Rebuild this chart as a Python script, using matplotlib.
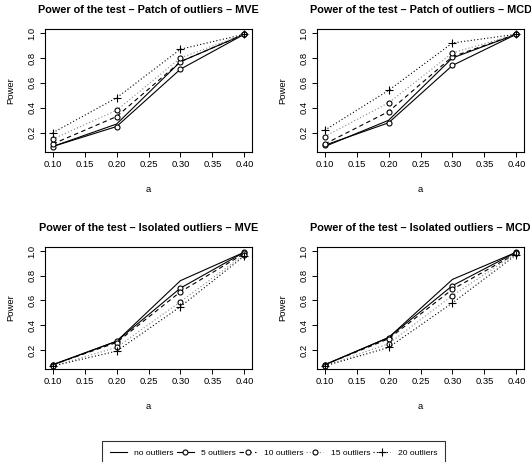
import matplotlib
matplotlib.use("Agg")
import matplotlib.pyplot as plt
from matplotlib.lines import Line2D

plt.rcParams['font.family'] = ['Liberation Sans', 'DejaVu Sans']

a_vals = [0.10, 0.20, 0.30, 0.40]
series_names = ["no outliers", "5 outliers", "10 outliers", "15 outliers", "20 outliers"]

titles = [
    "Power of the test \u2013 Patch of outliers \u2013 MVE",
    "Power of the test \u2013 Patch of outliers \u2013 MCD",
    "Power of the test \u2013 Isolated outliers \u2013 MVE",
    "Power of the test \u2013 Isolated outliers \u2013 MCD",
]

patch_mve = [
    [0.09, 0.27, 0.77, 0.99],
    [0.09, 0.25, 0.71, 0.99],
    [0.11, 0.33, 0.77, 0.99],
    [0.15, 0.38, 0.80, 0.99],
    [0.20, 0.48, 0.87, 0.99],
]
patch_mcd = [
    [0.09, 0.30, 0.80, 0.99],
    [0.10, 0.28, 0.74, 0.99],
    [0.11, 0.37, 0.81, 0.99],
    [0.17, 0.44, 0.84, 0.99],
    [0.22, 0.54, 0.92, 0.99],
]
iso_mve = [
    [0.08, 0.27, 0.76, 0.99],
    [0.08, 0.27, 0.70, 0.99],
    [0.08, 0.26, 0.67, 0.98],
    [0.07, 0.22, 0.59, 0.97],
    [0.07, 0.19, 0.55, 0.96],
]
iso_mcd = [
    [0.08, 0.30, 0.77, 0.99],
    [0.08, 0.30, 0.72, 0.99],
    [0.08, 0.29, 0.69, 0.98],
    [0.07, 0.25, 0.64, 0.98],
    [0.07, 0.22, 0.58, 0.97],
]
panels = [patch_mve, patch_mcd, iso_mve, iso_mcd]

styles = [
    dict(ls='-', marker=None, color='black'),
    dict(ls='-', marker='o', color='black'),
    dict(ls=(0, (4, 3)), marker='o', color='black'),
    dict(ls=(0, (1, 2)), marker='o', color='#888888'),
    dict(ls=(0, (1, 2)), marker='+', color='black'),
]

def msize(m):
    return 3.6 if m == 'o' else 5.5

fig = plt.figure(figsize=(5.31, 4.62), dpi=100)
W, H = 531, 462
boxes = [
    (45, 29, 252, 152),
    (317, 29, 524, 152),
    (45, 247, 252, 369),
    (317, 247, 524, 369),
]

for box, data, title in zip(boxes, panels, titles):
    l, t, r, b = box
    ax = fig.add_axes([l / W, 1 - b / H, (r - l) / W, (b - t) / H])
    for vals, st in zip(data, styles):
        ax.plot(a_vals, vals, linestyle=st['ls'], color=st['color'], lw=0.8,
                marker=st['marker'], markersize=msize(st['marker']),
                markerfacecolor='white', markeredgecolor='black', markeredgewidth=0.8)
    ax.set_xlim(0.088, 0.412)
    ax.set_ylim(0.046, 1.032)
    ax.set_xticks([0.10, 0.15, 0.20, 0.25, 0.30, 0.35, 0.40])
    ax.set_xticklabels(["0.10", "0.15", "0.20", "0.25", "0.30", "0.35", "0.40"])
    ax.set_yticks([0.2, 0.4, 0.6, 0.8, 1.0])
    ax.set_yticklabels(["0.2", "0.4", "0.6", "0.8", "1.0"], rotation=90, va='center')
    ax.tick_params(labelsize=6.8, length=3.5, width=0.7, pad=2.5)
    for sp in ax.spines.values():
        sp.set_linewidth(0.8)
    ax.set_xlabel("a", fontsize=6.8, labelpad=11)
    ax.set_ylabel("Power", fontsize=6.8, labelpad=9)
    ax.set_title(title, fontsize=7.8, fontweight='bold', pad=11.5)

handles = []
for name, st in zip(series_names, styles):
    handles.append(Line2D([0], [0], linestyle=st['ls'], color=st['color'], lw=0.8,
                          marker=st['marker'], markersize=msize(st['marker']),
                          markerfacecolor='white', markeredgecolor='black', markeredgewidth=0.8))
leg = fig.legend(handles, series_names, loc='upper center', bbox_to_anchor=(0.515, 1 - 441 / H),
                 ncol=5, fontsize=6.1, frameon=True, fancybox=False, edgecolor='black',
                 handlelength=2.0, handletextpad=0.9, columnspacing=0.35, borderpad=0.9,
                 borderaxespad=0)
leg.get_frame().set_linewidth(0.8)

fig.savefig("out.png", dpi=100)
